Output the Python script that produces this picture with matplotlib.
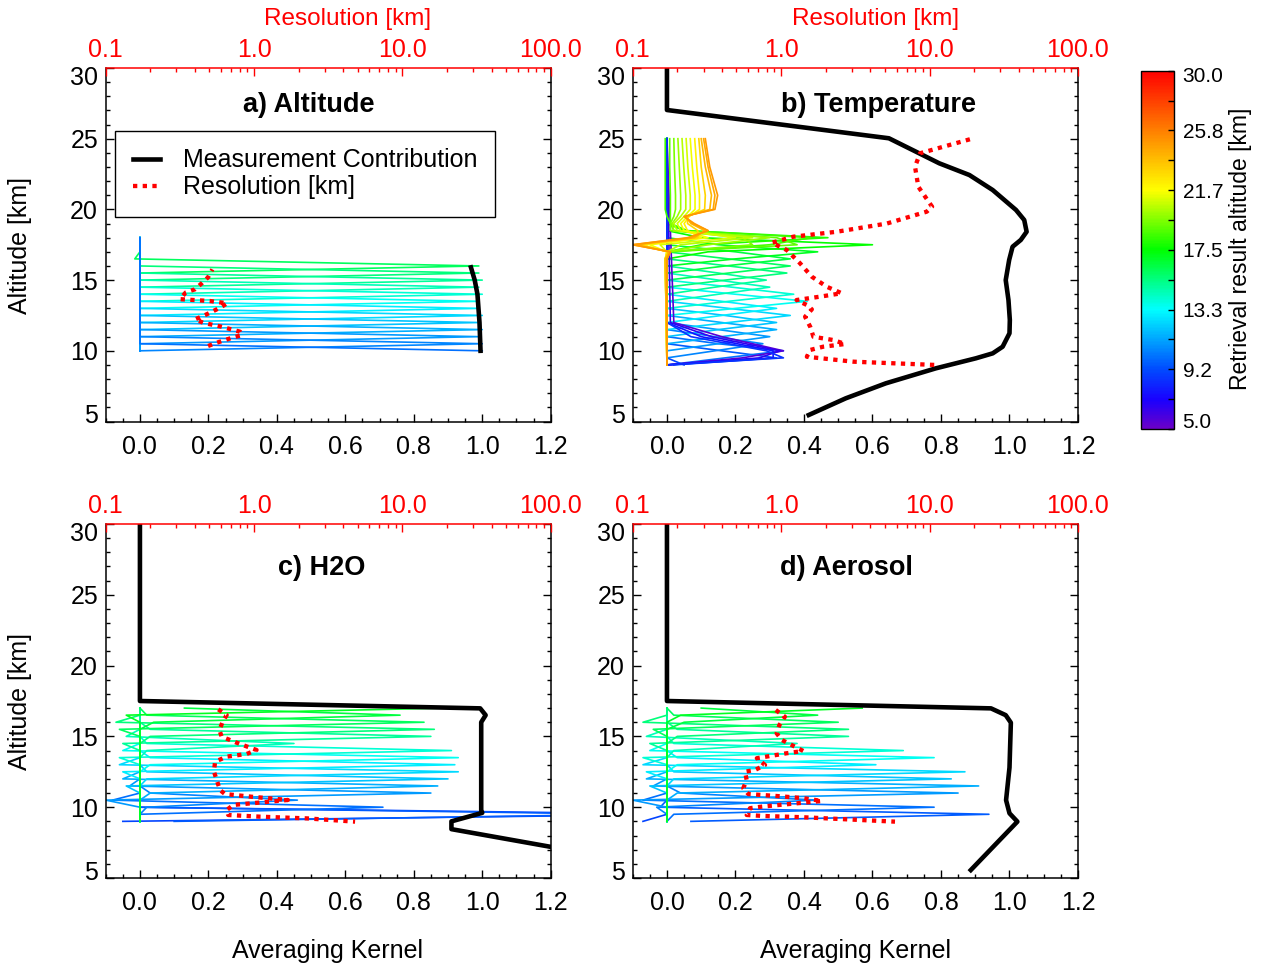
import numpy as np
import matplotlib
matplotlib.use("Agg")
import matplotlib.pyplot as plt
from matplotlib.colors import LinearSegmentedColormap, Normalize
from matplotlib.cm import ScalarMappable
from matplotlib.lines import Line2D
from matplotlib.transforms import ScaledTranslation
from matplotlib.ticker import FixedLocator, MultipleLocator, LogLocator, NullFormatter

plt.rcParams['font.family'] = ['Liberation Sans', 'DejaVu Sans']

# ------------------------------------------------------------------ data
alt_range = (5.0, 30.0)
ak_range = (-0.1, 1.2)
res_range = (0.1, 100.0)
ak_ticks = [0.0, 0.2, 0.4, 0.6, 0.8, 1.0, 1.2]
ak_tick_labels = ["0.0", "0.2", "0.4", "0.6", "0.8", "1.0", "1.2"]
alt_ticks = [5, 10, 15, 20, 25, 30]
res_ticks = [0.1, 1.0, 10.0, 100.0]
res_tick_labels = ["0.1", "1.0", "10.0", "100.0"]
cbar_ticks = [5.0, 9.1667, 13.3333, 17.5, 21.6667, 25.8333, 30.0]
cbar_tick_labels = ["5.0", "9.2", "13.3", "17.5", "21.7", "25.8", "30.0"]
panel_titles = ["a) Altitude", "b) Temperature", "c) H2O", "d) Aerosol"]

# ---- panel a : altitude
alt_a = [10.0, 10.5, 11.0, 11.5, 12.0, 12.5, 13.0, 13.5, 14.0, 14.5, 15.0, 15.5, 16.0,
         16.5, 17.0, 17.5, 18.0]
peak_a = [1.00, 1.00, 0.99, 1.00, 0.99, 1.00, 0.99, 0.99, 1.00, 0.99, 1.00, 0.99, 0.99,
          0.0, 0.0, 0.0, 0.0]
lo_a = [0.0, 0.0, 0.0, 0.0, 0.0, 0.0, 0.0, 0.0, 0.0, 0.0, 0.0, 0.0, 0.0, 0.0, 0.0, 0.0, 0.0]
hi_a = [0.0, 0.0, 0.0, 0.0, 0.0, 0.0, 0.0, 0.0, 0.0, 0.0, 0.0, 0.0, -0.015, 0.0, 0.0, 0.0, 0.0]
mc_alt_a = [15.9, 15.0, 14.0, 12.0, 10.0]
mc_a = [0.967, 0.978, 0.986, 0.992, 0.995]
res_alt_a = [10.34, 10.57, 10.95, 11.1, 11.35, 11.7, 11.98, 12.22, 12.53, 12.8, 13.08,
             13.36, 13.52, 13.6, 13.65, 14.12, 14.35, 14.77, 15.2, 15.76]
res_a = [0.49, 0.56, 0.725, 0.826, 0.805, 0.605, 0.455, 0.40, 0.468, 0.53, 0.596,
         0.66, 0.505, 0.38, 0.317, 0.346, 0.40, 0.444, 0.49, 0.524]

# ---- panel b : temperature
alt_b = [9.0, 9.5, 10.0, 10.5, 11.0, 11.5, 12.0, 12.5, 13.0, 13.5, 14.0, 14.5, 15.0,
         15.5, 16.0, 16.5, 17.0, 17.5, 18.0, 18.5, 19.0, 19.5, 20.0, 20.5, 21.0, 21.5,
         22.0, 22.5, 23.0, 23.5, 24.0, 24.5, 25.0]
peak_b = [0.05, 0.32, 0.34, 0.28, 0.30, 0.32, 0.32, 0.36, 0.32, 0.41, 0.37, 0.30, 0.29,
          0.35, 0.36, 0.36, 0.44, 0.60, 0.47]
lo_b = [0.00, 0.02, 0.17, 0.14, 0.15, 0.16, 0.15, 0.18, 0.16, 0.20, 0.18, 0.15, 0.14,
        0.17, 0.18, 0.17, 0.20, 0.12, 0.10]
hi_b = [0.00, 0.16, 0.15, 0.14, 0.15, 0.16, 0.17, 0.18, 0.16, 0.20, 0.19, 0.15, 0.15,
        0.18, 0.18, 0.20, 0.15, 0.10, 0.05]
# kernels retrieved below the grid (deep, purple)
alt_b_deep = [9.0, 9.5, 10.0, 11.0, 12.0, 25.0]
ret_b_deep = [5.5, 6.5, 7.5, 8.5]
ak_b_deep_55 = [0.00, 0.22, 0.34, 0.16, 0.02, 0.0]
ak_b_deep_65 = [0.00, 0.27, 0.33, 0.13, 0.01, 0.0]
ak_b_deep_75 = [0.00, 0.31, 0.31, 0.10, 0.00, 0.0]
ak_b_deep_85 = [0.00, 0.34, 0.29, 0.07, 0.00, 0.0]
# kernels retrieved above 18 km
alt_b_up = [9.0, 16.5, 17.0, 17.5, 18.0, 18.5, 19.0, 19.5, 20.0, 21.0, 23.0, 25.0]
ret_b_up = [18.5, 19.0, 19.5, 20.0, 20.5, 21.0, 21.5, 22.0, 23.0, 24.0, 24.5, 25.0]
ak_b_185 = [0.000, 0.000, 0.005, 0.30, 0.42, 0.06, 0.010, 0.000, -0.005, -0.005, -0.005, -0.005]
ak_b_190 = [0.000, 0.000, 0.005, 0.38, 0.32, 0.02, 0.010, 0.010, 0.010, 0.010, 0.008, 0.008]
ak_b_195 = [0.000, 0.000, 0.000, 0.25, 0.22, 0.01, 0.010, 0.020, 0.025, 0.025, 0.022, 0.020]
ak_b_200 = [0.000, 0.000, 0.000, 0.12, 0.30, 0.02, 0.015, 0.030, 0.040, 0.040, 0.036, 0.032]
ak_b_205 = [0.000, 0.000, 0.000, 0.04, 0.25, 0.03, 0.020, 0.040, 0.055, 0.055, 0.049, 0.044]
ak_b_210 = [0.000, -0.005, 0.000, -0.02, 0.20, 0.04, 0.030, 0.050, 0.068, 0.068, 0.061, 0.056]
ak_b_215 = [0.000, -0.005, 0.000, -0.05, 0.12, 0.05, 0.040, 0.060, 0.082, 0.082, 0.074, 0.068]
ak_b_220 = [0.000, -0.005, 0.000, -0.07, 0.10, 0.06, 0.050, 0.065, 0.095, 0.095, 0.087, 0.081]
ak_b_230 = [0.000, -0.005, 0.005, -0.08, 0.09, 0.09, 0.060, 0.060, 0.110, 0.112, 0.100, 0.093]
ak_b_240 = [0.000, -0.005, 0.005, -0.09, 0.08, 0.11, 0.070, 0.055, 0.125, 0.130, 0.112, 0.100]
ak_b_245 = [0.000, 0.000, 0.010, -0.10, 0.07, 0.12, 0.075, 0.050, 0.135, 0.140, 0.120, 0.107]
ak_b_250 = [0.000, 0.000, 0.010, -0.10, 0.06, 0.12, 0.080, 0.050, 0.140, 0.148, 0.125, 0.112]
mc_alt_b = [30.0, 27.03, 25.03, 24.2, 23.26, 22.43, 21.37, 19.96, 19.25, 18.42, 17.84,
            17.36, 16.42, 15.0, 13.59, 12.18, 11.24, 10.29, 9.82, 9.47, 8.76, 7.7, 6.64, 5.46]
mc_b = [0.0, 0.0, 0.648, 0.717, 0.795, 0.883, 0.951, 1.019, 1.043, 1.05, 1.033,
        1.009, 0.999, 0.989, 0.997, 1.001, 1.0, 0.98, 0.951, 0.902, 0.785, 0.639, 0.522, 0.414]
res_alt_b = [24.96, 23.97, 23.02, 21.6, 20.19, 19.84, 19.0, 18.42, 18.07, 17.64, 17.13,
             16.19, 15.24, 14.53, 14.07, 13.83, 13.59, 13.24, 12.93, 12.41, 11.7, 10.99,
             10.76, 10.48, 10.29, 10.06, 9.58, 9.23, 9.0]
res_b = [18.7, 8.63, 7.98, 8.4, 10.4, 9.57, 5.15, 2.37, 1.21, 0.865, 1.09,
         1.34, 1.61, 2.03, 2.56, 1.83, 1.27, 1.49, 1.61, 1.45, 1.57, 1.65,
         2.25, 2.7, 1.92, 1.57, 1.49, 3.07, 10.9]

# ---- panel c : H2O
alt_c = [9.0, 9.5, 10.0, 10.5, 11.0, 11.5, 12.0, 12.5, 13.0, 13.5, 14.0, 14.5, 15.0,
         15.5, 16.0, 16.5, 17.0]
peak_c = [-0.05, 1.45, 0.71, 0.46, 0.85, 0.87, 0.90, 0.93, 0.92, 0.93, 0.91, 0.45, 0.85,
          0.86, 0.83, 0.76, 0.89]
lo_c = [0.00, 0.10, 0.00, 0.02, -0.10, 0.03, -0.04, 0.02, -0.05, 0.03, -0.06, 0.02, -0.05,
        0.03, -0.06, 0.04, -0.04]
hi_c = [1.60, 0.00, -0.08, 0.03, -0.03, -0.05, 0.02, -0.06, 0.03, -0.05, 0.02, -0.04, 0.03,
        -0.07, 0.02, 0.13, 0.00]
mc_alt_c = [30.0, 17.5, 16.98, 16.5, 16.0, 9.8, 9.6, 9.0, 8.45, 7.2, 6.0]
mc_c = [0.0, 0.0, 0.994, 1.01, 0.997, 0.997, 1.0, 0.91, 0.91, 1.2, 1.45]
res_alt_c = [16.91, 16.51, 16.04, 15.45, 14.98, 14.46, 14.04, 13.76, 13.57, 13.21, 12.51,
             11.92, 11.21, 10.93, 10.74, 10.51, 10.16, 9.8, 9.45, 9.33, 9.21, 8.98]
res_c = [0.574, 0.654, 0.615, 0.584, 0.605, 0.805, 1.04, 0.893, 0.654, 0.546, 0.537,
         0.56, 0.59, 0.637, 0.96, 1.69, 0.725, 0.654, 0.67, 1.1, 2.27, 4.8]

# ---- panel d : aerosol
alt_d = [9.0, 9.5, 10.0, 10.5, 11.0, 11.5, 12.0, 12.5, 13.0, 13.5, 14.0, 14.5, 15.0,
         15.5, 16.0, 16.5, 17.0]
peak_d = [-0.07, 0.94, 0.78, 0.44, 0.85, 0.91, 0.83, 0.87, 0.61, 0.78, 0.69, 0.38, 0.53,
          0.53, 0.50, 0.44, 0.57]
lo_d = [0.00, 0.07, 0.02, -0.03, -0.10, 0.03, -0.05, 0.02, -0.06, 0.03, -0.07, 0.02, -0.05,
        0.03, -0.04, 0.05, 0.04]
hi_d = [0.00, -0.02, -0.07, 0.04, -0.04, -0.06, 0.02, -0.07, 0.03, -0.05, 0.02, -0.06, 0.03,
        -0.07, 0.02, 0.10, 0.00]
mc_alt_d = [30.0, 17.5, 16.98, 16.5, 15.97, 12.8, 10.5, 9.57, 8.98, 5.56]
mc_d = [0.0, 0.0, 0.946, 0.989, 1.004, 1.0, 0.99, 1.0, 1.023, 0.887]
res_alt_d = [16.86, 16.39, 15.8, 15.22, 14.75, 13.97, 13.81, 13.46, 12.98, 12.63, 12.51,
             11.92, 11.34, 10.93, 10.79, 10.64, 10.44, 10.25, 10.04, 9.93, 9.45, 9.38,
             9.29, 8.98]
res_d = [0.92, 1.06, 0.973, 0.933, 1.01, 1.41, 1.09, 0.686, 0.779, 0.667, 0.571,
         0.586, 0.556, 0.601, 0.933, 1.41, 1.88, 1.2, 0.74, 0.617, 0.586, 0.759,
         1.41, 5.85]

# ------------------------------------------------------------------ style
cmap = LinearSegmentedColormap.from_list(
    "idl_rainbow",
    [(0.00, (0.42, 0.00, 0.78)), (0.08, (0.10, 0.00, 1.00)), (0.167, (0.00, 0.30, 1.00)),
     (0.333, (0.00, 1.00, 1.00)), (0.50, (0.00, 1.00, 0.00)), (0.667, (1.00, 1.00, 0.00)),
     (0.833, (1.00, 0.50, 0.00)), (1.00, (1.00, 0.00, 0.00))])
norm = Normalize(vmin=alt_range[0], vmax=alt_range[1])

KLW = 1.2
MCLW = 3.3
RESLW = 3.1
RESLS = (0, (1.0, 1.25))
FS = 18
W, H = 1262, 972

fig = plt.figure(figsize=(W / 100, H / 100), dpi=100)


def px_axes(l, t, r, b):
    return fig.add_axes([l / W, 1 - b / H, (r - l) / W, (b - t) / H])


def banded(alt, peak, lo, hi):
    K = np.zeros((len(peak), len(alt)))
    for i in range(len(peak)):
        K[i, i] = peak[i]
        if i > 0:
            K[i, i - 1] = lo[i]
        if i < len(alt) - 1:
            K[i, i + 1] = hi[i]
    return K


def shift_label(lab, dy_px):
    lab.set_transform(lab.get_transform() +
                      ScaledTranslation(0, dy_px / 100.0, fig.dpi_scale_trans))


def setup(ax):
    ax.set_xlim(*ak_range)
    ax.set_ylim(*alt_range)
    ax.set_xticks(ak_ticks)
    ax.set_xticklabels(ak_tick_labels)
    ax.xaxis.set_minor_locator(MultipleLocator(0.05))
    ax.set_yticks(alt_ticks)
    ax.yaxis.set_minor_locator(MultipleLocator(1))
    ax.tick_params(which='both', direction='in', top=False, right=True,
                   labelsize=FS, width=1.0)
    ax.tick_params(axis='x', which='both', pad=9.5)
    ax.tick_params(axis='y', which='both', pad=5.5)
    ax.tick_params(which='major', length=5.5)
    ax.tick_params(which='minor', length=3)
    for s in ax.spines.values():
        s.set_linewidth(1.1)
    ax.spines['top'].set_visible(False)
    axt = ax.twiny()
    axt.set_xscale('log')
    axt.set_xlim(*res_range)
    axt.set_xticks(res_ticks)
    axt.set_xticklabels(res_tick_labels)
    axt.xaxis.set_minor_locator(LogLocator(base=10, subs=range(2, 10)))
    axt.xaxis.set_minor_formatter(NullFormatter())
    axt.tick_params(axis='x', which='both', direction='in', colors='red',
                    labelsize=FS, pad=4, width=1.0)
    axt.tick_params(which='major', length=5.5)
    axt.tick_params(which='minor', length=3)
    for k in ['bottom', 'left', 'right']:
        axt.spines[k].set_visible(False)
    axt.spines['top'].set_color('red')
    axt.spines['top'].set_linewidth(1.1)
    ylabs = ax.get_yticklabels()
    shift_label(ylabs[0], 8)
    shift_label(ylabs[-1], -7)
    return axt


ax_a = px_axes(105.7, 68, 550.7, 421.5)
ax_b = px_axes(632.7, 68, 1078, 421.5)
ax_c = px_axes(105.7, 524, 550.7, 878)
ax_d = px_axes(632.7, 524, 1078, 878)

# ---- a
axt_a = setup(ax_a)
Ka = banded(alt_a, peak_a, lo_a, hi_a)
for i in range(len(peak_a) - 1, -1, -1):
    ax_a.plot(Ka[i], alt_a, color=cmap(norm(alt_a[i])), lw=KLW)
ax_a.plot(mc_a, mc_alt_a, color='black', lw=MCLW)
axt_a.plot(res_a, res_alt_a, color='red', lw=RESLW, ls=RESLS, dash_capstyle='butt')

# ---- b
axt_b = setup(ax_b)
Kb = banded(alt_b, peak_b, lo_b, hi_b)
for i in range(len(peak_b)):
    ax_b.plot(Kb[i], alt_b, color=cmap(norm(alt_b[i])), lw=KLW)
for r, prof in zip(ret_b_deep, [ak_b_deep_55, ak_b_deep_65, ak_b_deep_75, ak_b_deep_85]):
    ax_b.plot(prof, alt_b_deep, color=cmap(norm(r)), lw=KLW)
for r, prof in zip(ret_b_up, [ak_b_185, ak_b_190, ak_b_195, ak_b_200, ak_b_205, ak_b_210,
                              ak_b_215, ak_b_220, ak_b_230, ak_b_240, ak_b_245, ak_b_250]):
    ax_b.plot(prof, alt_b_up, color=cmap(norm(r)), lw=KLW)
ax_b.plot(mc_b, mc_alt_b, color='black', lw=MCLW)
axt_b.plot(res_b, res_alt_b, color='red', lw=RESLW, ls=RESLS, dash_capstyle='butt')

# ---- c
axt_c = setup(ax_c)
Kc = banded(alt_c, peak_c, lo_c, hi_c)
for i in range(len(peak_c)):
    ax_c.plot(Kc[i], alt_c, color=cmap(norm(alt_c[i])), lw=KLW)
ax_c.plot(mc_c, mc_alt_c, color='black', lw=MCLW)
axt_c.plot(res_c, res_alt_c, color='red', lw=RESLW, ls=RESLS, dash_capstyle='butt')

# ---- d
axt_d = setup(ax_d)
Kd = banded(alt_d, peak_d, lo_d, hi_d)
for i in range(len(peak_d)):
    ax_d.plot(Kd[i], alt_d, color=cmap(norm(alt_d[i])), lw=KLW)
ax_d.plot(mc_d, mc_alt_d, color='black', lw=MCLW)
axt_d.plot(res_d, res_alt_d, color='red', lw=RESLW, ls=RESLS, dash_capstyle='butt')

# titles
for axt, title, xf, yf in [(axt_a, panel_titles[0], 0.457, 0.895),
                           (axt_b, panel_titles[1], 0.553, 0.895),
                           (axt_c, panel_titles[2], 0.486, 0.877),
                           (axt_d, panel_titles[3], 0.481, 0.877)]:
    axt.text(xf, yf, title, transform=axt.transAxes, ha='center', va='center',
             fontsize=19.5, fontweight='bold')

# legend
handles = [Line2D([], [], color='black', lw=MCLW),
           Line2D([], [], color='red', lw=RESLW, ls=RESLS, dash_capstyle='butt')]
leg = axt_a.legend(handles, ["Measurement Contribution", "Resolution [km]"],
                   loc='upper left', bbox_to_anchor=(0.021, 0.822), fontsize=FS,
                   frameon=True, fancybox=False, edgecolor='black', framealpha=1,
                   handlelength=1.1, handletextpad=0.9, labelspacing=0.12,
                   borderpad=0.7, borderaxespad=0)
leg.get_frame().set_linewidth(1.0)

# axis labels
for xc in (328, 856):
    fig.text(xc / W, 1 - 951 / H, "Averaging Kernel", ha='center', va='center', fontsize=FS)
for xc in (348, 876):
    fig.text(xc / W, 1 - 19 / H, "Resolution [km]", ha='center', va='center',
             fontsize=FS - 0.5, color='red')
for yc in (245, 701):
    fig.text(20 / W, 1 - yc / H, "Altitude [km]", ha='center', va='center',
             fontsize=FS, rotation=90)

# colorbar
cax = px_axes(1140.7, 70.7, 1174.3, 429)
sm = ScalarMappable(norm=norm, cmap=cmap)
cb = fig.colorbar(sm, cax=cax, ticks=cbar_ticks)
cb.ax.set_yticklabels(cbar_tick_labels)
mids = [(a + b) / 2 for a, b in zip(cbar_ticks[:-1], cbar_ticks[1:])]
cb.ax.yaxis.set_minor_locator(FixedLocator(mids))
cb.ax.tick_params(which='both', direction='in', right=True, left=False, length=4,
                  width=1.0, labelsize=15, pad=6)
cb.outline.set_linewidth(1.0)
clabs = cb.ax.get_yticklabels()
shift_label(clabs[0], 8)
shift_label(clabs[-1], -4)
fig.text(1240 / W, 1 - 249 / H, "Retrieval result altitude [km]", ha='center', va='center',
         fontsize=16.5, rotation=90)

fig.savefig("out.png", dpi=100)
